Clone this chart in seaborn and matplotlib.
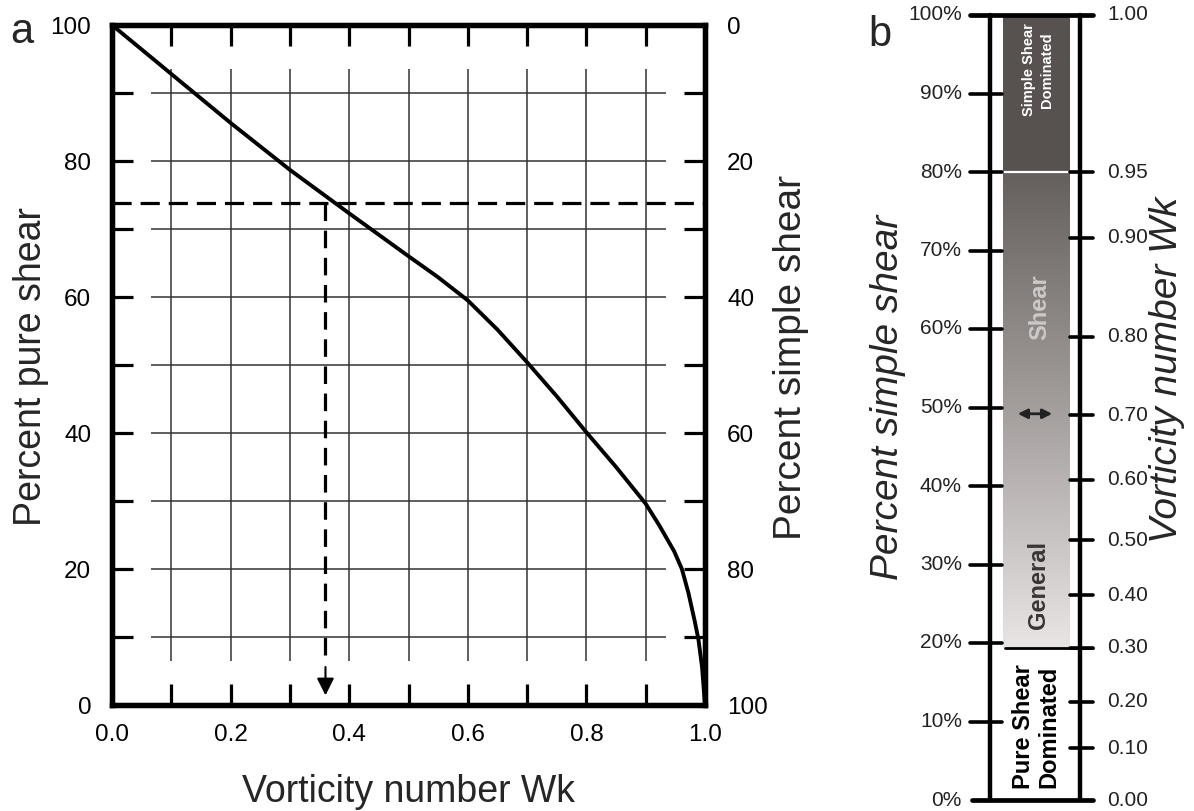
import numpy as np
import matplotlib
matplotlib.use('Agg')
import matplotlib.pyplot as plt
from matplotlib.colors import LinearSegmentedColormap
import seaborn as sns

# panel a: curve
wk = [0.0, 0.1, 0.2, 0.3, 0.4, 0.5, 0.55, 0.6, 0.65, 0.7, 0.75, 0.8, 0.85, 0.9,
      0.923, 0.948, 0.961, 0.972, 0.983, 0.989, 0.995, 1.0]
pure_shear = [100.0, 92.8, 85.6, 78.7, 72.3, 66.0, 62.9, 59.5, 55.2, 50.4, 45.4, 40.1, 35.0, 29.6,
              26.4, 22.6, 20.0, 16.5, 12.2, 9.6, 5.6, 0.0]
example_wk = 0.36
example_pure = 73.8

x_ticks = [0.0, 0.1, 0.2, 0.3, 0.4, 0.5, 0.6, 0.7, 0.8, 0.9, 1.0]
x_ticklabels = ['0.0', '', '0.2', '', '0.4', '', '0.6', '', '0.8', '', '1.0']
y_ticks = [0, 10, 20, 30, 40, 50, 60, 70, 80, 90, 100]
y_ticklabels = ['0', '', '20', '', '40', '', '60', '', '80', '', '100']
grid_x = [0.1, 0.2, 0.3, 0.4, 0.5, 0.6, 0.7, 0.8, 0.9]
grid_y = [10, 20, 30, 40, 50, 60, 70, 80, 90]

# panel b: percent simple shear scale and matching Wk ticks
pct_ticks = [0, 10, 20, 30, 40, 50, 60, 70, 80, 90, 100]
pct_labels = ['0%', '10%', '20%', '30%', '40%', '50%', '60%', '70%', '80%', '90%', '100%']
wk_labels = ['1.00', '0.95', '0.90', '0.80', '0.70', '0.60', '0.50', '0.40', '0.30', '0.20', '0.10', '0.00']
wk_pos = [100, 80.0, 71.6, 59.0, 49.0, 40.8, 33.1, 26.1, 19.4, 12.5, 6.6, 0]
zone_edges = [0, 19.4, 80, 100]
arrow_pct = 49.2

sns.set_theme(style="white")
plt.rcParams['font.family'] = ['Liberation Sans', 'DejaVu Sans']
narrow = ['Liberation Sans Narrow', 'Liberation Sans', 'DejaVu Sans']

W, H = 1194, 811
fig = plt.figure(figsize=(W / 100, H / 100), dpi=100)
fig.patch.set_facecolor('white')


def fx(px):
    return px / W


def fy(py):
    return 1 - py / H


# ---------------- panel a ----------------
ax = fig.add_axes([fx(112), fy(705), (705 - 112) / W, (705 - 25) / H])
ax.set_facecolor('white')
ax.hlines(grid_y, 0.065, 0.935, color='#333333', lw=1.1, zorder=1)
ax.vlines(grid_x, 6.5, 93.5, color='#333333', lw=1.1, zorder=1)

sns.lineplot(x=wk, y=pure_shear, ax=ax, color='black', linewidth=2.8, sort=False, zorder=3)

ax.axhline(example_pure, color='black', lw=2.3, ls=(0, (6, 2.8)), zorder=2)
ax.plot([example_wk, example_wk], [example_pure, 6], color='black', lw=2.3,
        ls=(0, (5.5, 3)), zorder=2)
ax.annotate('', xy=(example_wk, 1.0), xytext=(example_wk, 6),
            arrowprops=dict(arrowstyle='-|>', mutation_scale=26, color='black', lw=1.5),
            zorder=4)

ax.set_xlim(0, 1)
ax.set_ylim(0, 100)
ax.set_xticks(x_ticks)
ax.set_xticklabels(x_ticklabels)
ax.set_yticks(y_ticks)
ax.set_yticklabels(y_ticklabels)
ax.tick_params(axis='both', direction='in', length=15, width=2.3, labelsize=17.5,
               top=True, bottom=True, left=True, right=False, colors='black')
ax.tick_params(axis='x', pad=14)
ax.tick_params(axis='y', pad=15)
for s in ax.spines.values():
    s.set_linewidth(3.8)
    s.set_color('black')
ax.set_xlabel('')
ax.set_ylabel('')

ax2 = ax.twinx()
ax2.set_ylim(100, 0)
ax2.set_yticks(y_ticks)
ax2.set_yticklabels(y_ticklabels)
ax2.tick_params(axis='y', direction='in', length=15, width=2.3, labelsize=17.5, pad=16,
                colors='black')
for s in ax2.spines.values():
    s.set_linewidth(3.8)
    s.set_color('black')

fig.text(fx(408), fy(802), 'Vorticity number Wk', fontsize=27, ha='center', va='baseline')
fig.text(fx(41), fy(367), 'Percent pure shear', fontsize=27, rotation=90,
         rotation_mode='anchor', ha='center', va='baseline')
fig.text(fx(801), fy(357), 'Percent simple shear', fontsize=28, rotation=90,
         rotation_mode='anchor', ha='center', va='baseline')
fig.text(fx(22), fy(32), 'a', fontsize=30, ha='center', va='center')

# ---------------- panel b ----------------
axb = fig.add_axes([fx(940), fy(800), 160 / W, 785 / H])
axb.axis('off')

cmap = LinearSegmentedColormap.from_list('shear', ['#e9e5e5', '#a49e9d', '#655f5d'])
grad = np.linspace(0, 1, 256).reshape(-1, 1)
axb.imshow(grad, extent=[1003, 1070, zone_edges[1], zone_edges[2]], origin='lower',
           aspect='auto', cmap=cmap, zorder=1)
axb.fill_between([1003, 1070], zone_edges[2], zone_edges[3], color='#57514f', lw=0, zorder=1)
axb.plot([1003, 1070], [zone_edges[2], zone_edges[2]], color='white', lw=1.6, zorder=2)
axb.plot([1005, 1093], [zone_edges[1], zone_edges[1]], color='black', lw=2.0, zorder=2)

# frame
axb.plot([990, 990], [0, 100], color='black', lw=3.2, clip_on=False, zorder=3)
axb.plot([1080, 1080], [0, 100], color='black', lw=3.2, clip_on=False, zorder=3)
axb.plot([970, 1093], [100, 100], color='black', lw=3.4, clip_on=False, zorder=3)
axb.plot([972, 1093], [0, 0], color='black', lw=3.4, clip_on=False, zorder=3)

for p, lab in zip(pct_ticks, pct_labels):
    if 0 < p < 100:
        axb.plot([970, 1002], [p, p], color='black', lw=2.6, zorder=3)
    axb.text(962, p, lab, ha='right', va='center', fontsize=15, color='#222222')

for p, lab in zip(wk_pos, wk_labels):
    if 0 < p < 100:
        axb.plot([1070, 1093], [p, p], color='black', lw=2.6, zorder=3)
    axb.text(1107, p, lab, ha='left', va='center', fontsize=15, color='#222222',
             clip_on=False)

axb.annotate('', xy=(1015, arrow_pct), xytext=(1055, arrow_pct),
             arrowprops=dict(arrowstyle='<|-|>', mutation_scale=14, color='#222222', lw=2))

axb.text(1038, 93.0, 'Simple Shear\nDominated', rotation=90, ha='center', va='center',
         multialignment='center', color='white', fontsize=10.5, fontweight='bold',
         family=narrow, linespacing=1.35)
axb.text(1040, 62.8, 'Shear', rotation=90, ha='center', va='center',
         color='#cdc9c9', fontsize=17, fontweight='bold', family=narrow)
axb.text(1038, 27.4, 'General', rotation=90, ha='center', va='center',
         color='#3a3535', fontsize=17, fontweight='bold', family=narrow)
axb.text(1036, 9.3, 'Pure Shear\nDominated', rotation=90, ha='center', va='center',
         multialignment='center', color='black', fontsize=17, fontweight='bold',
         family=narrow, linespacing=1.1)

axb.set_xlim(940, 1100)
axb.set_ylim(0, 100)

fig.text(fx(898), fy(397), 'Percent simple shear', rotation=90, fontsize=28,
         style='italic', rotation_mode='anchor', ha='center', va='baseline')
fig.text(fx(1177), fy(370), 'Vorticity number Wk', rotation=90, fontsize=28,
         style='italic', rotation_mode='anchor', ha='center', va='baseline')
fig.text(fx(880), fy(35), 'b', fontsize=30, ha='center', va='center')

fig.savefig('out.png', dpi=100, facecolor='white')
